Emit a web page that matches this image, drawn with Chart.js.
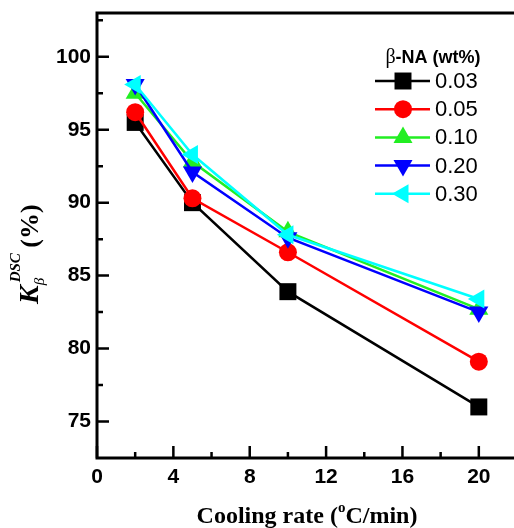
<!DOCTYPE html>
<html><head><meta charset="utf-8">
<script src="https://cdn.jsdelivr.net/npm/chart.js@4.4.0/dist/chart.umd.min.js"></script>
<style>html,body{margin:0;padding:0;overflow:hidden;background:#fff;width:514px;height:528px}canvas{display:block}</style>
</head><body>
<canvas id="c" width="520" height="528"></canvas>
<script>
// ---- data ----
const coolingRates = [2, 5, 10, 20];
const seriesNames = ['0.03', '0.05', '0.10', '0.20', '0.30'];
const k003 = [95.5, 90.0, 83.9, 76.0];
const k005 = [96.2, 90.3, 86.6, 79.1];
const k010 = [97.5, 92.8, 88.0, 82.7];
const k020 = [98.1, 92.1, 87.6, 82.5];
const k030 = [98.1, 93.3, 87.8, 83.4];
const xTicks = [0, 4, 8, 12, 16, 20];
const yTicks = [75, 80, 85, 90, 95, 100];
const legendTitle = ['β', '-NA (wt%)'];
const xTitle = ['Cooling rate (', 'o', 'C/min)'];
const yTitle = ['K', 'β', 'DSC', ' (%)'];

// ---- styles ----
const SANS = '"Liberation Sans", Arial, sans-serif';
const SERIF = '"Liberation Serif", "Times New Roman", serif';
const colors = ['#000000', '#ff0000', '#22ee22', '#0000ff', '#00ffff'];
const shapes = ['rect', 'circle', 'triangle', 'triangle', 'triangle'];
const rotations = [0, 0, 0, 180, 270];
const radii = [12, 9, 11, 11, 11];
const seriesValues = [k003, k005, k010, k020, k030];

const datasets = seriesValues.map((vals, i) => ({
  label: seriesNames[i],
  data: coolingRates.map((x, j) => ({x: x, y: vals[j]})),
  borderColor: colors[i],
  backgroundColor: colors[i],
  borderWidth: 2.5,
  pointStyle: shapes[i],
  pointRotation: rotations[i],
  pointRadius: radii[i],
  pointBorderWidth: 0,
  pointHoverRadius: radii[i],
  tension: 0,
  clip: false,
  order: seriesValues.length - i
}));

const decor = {
  id: 'decor',
  beforeDatasetsDraw(chart) {
    const {ctx, chartArea: a, scales: {x, y}} = chart;
    ctx.save();
    ctx.strokeStyle = '#000';
    ctx.lineWidth = 3;
    ctx.strokeRect(a.left, a.top, a.right - a.left, a.bottom - a.top);
    ctx.lineWidth = 2.5;
    ctx.beginPath();
    const xv = x.ticks.map(t => t.value);
    xv.forEach((v, i) => {
      const px = x.getPixelForValue(v);
      ctx.moveTo(px, a.bottom); ctx.lineTo(px, a.bottom - 12);
      const mid = v + (xv[1] - xv[0]) / 2;
      if (mid < x.max) {
        const pm = x.getPixelForValue(mid);
        ctx.moveTo(pm, a.bottom); ctx.lineTo(pm, a.bottom - 6);
      }
    });
    const yv = y.ticks.map(t => t.value);
    const ys = yv[1] - yv[0];
    yv.forEach(v => {
      const py = y.getPixelForValue(v);
      ctx.moveTo(a.left, py); ctx.lineTo(a.left + 12, py);
    });
    [yv[0] - ys / 2].concat(yv.map(v => v + ys / 2)).forEach(m => {
      if (m > y.min && m < y.max) {
        const pm = y.getPixelForValue(m);
        ctx.moveTo(a.left, pm); ctx.lineTo(a.left + 6, pm);
      }
    });
    ctx.stroke();
    ctx.restore();
  },
  afterDraw(chart) {
    const {ctx, chartArea: a} = chart;
    ctx.save();
    ctx.fillStyle = '#000';
    ctx.textBaseline = 'alphabetic';
    // legend title
    const tf0 = '20px ' + SERIF, tf1 = 'bold 18px ' + SANS;
    ctx.font = tf0;
    const w0 = ctx.measureText(legendTitle[0]).width;
    ctx.font = tf1;
    const w1 = ctx.measureText(legendTitle[1]).width;
    let lx = 433 - (w0 + w1) / 2;
    ctx.font = tf0;
    ctx.fillText(legendTitle[0], lx, 63);
    ctx.font = tf1;
    ctx.fillText(legendTitle[1], lx + w0, 63);
    // legend items
    chart.data.datasets.forEach((ds, i) => {
      const cy = 81 + 28.2 * i;
      ctx.strokeStyle = ds.borderColor;
      ctx.lineWidth = 2.5;
      ctx.beginPath(); ctx.moveTo(375, cy); ctx.lineTo(430, cy); ctx.stroke();
      ctx.fillStyle = ds.backgroundColor;
      Chart.helpers.drawPoint(ctx, {pointStyle: ds.pointStyle, rotation: ds.pointRotation, radius: ds.pointRadius, borderWidth: 0}, 403, cy);
      ctx.fillStyle = '#000';
      ctx.font = '22px ' + SANS;
      ctx.textBaseline = 'middle';
      ctx.fillText(ds.label, 435, cy + 1);
      ctx.textBaseline = 'alphabetic';
    });
    // x title
    const f1 = 'bold 24px ' + SERIF, f2 = 'bold 15px ' + SERIF;
    ctx.font = f1; const a1 = ctx.measureText(xTitle[0]).width;
    ctx.font = f2; const a2 = ctx.measureText(xTitle[1]).width;
    ctx.font = f1; const a3 = ctx.measureText(xTitle[2]).width;
    let tx = 307 - (a1 + a2 + a3) / 2;
    const ty = 523;
    ctx.font = f1; ctx.fillText(xTitle[0], tx, ty);
    ctx.font = f2; ctx.fillText(xTitle[1], tx + a1, ty - 11);
    ctx.font = f1; ctx.fillText(xTitle[2], tx + a1 + a2, ty);
    // y title (rotated)
    ctx.translate(38, 304);
    ctx.rotate(-Math.PI / 2);
    ctx.font = 'bold italic 28px ' + SERIF;
    ctx.fillText(yTitle[0], 0, 0);
    const kw = ctx.measureText(yTitle[0]).width;
    ctx.font = 'italic 15px ' + SERIF;
    ctx.fillText(yTitle[1], kw, 6);
    ctx.font = 'bold italic 15px ' + SERIF;
    ctx.fillText(yTitle[2], kw + 3, -18);
    const dw = ctx.measureText(yTitle[2]).width;
    ctx.font = 'bold 26px ' + SERIF;
    ctx.fillText(yTitle[3], kw + 2 + dw, 0);
    ctx.restore();
  }
};

new Chart(document.getElementById('c'), {
  type: 'line',
  data: {datasets: datasets},
  plugins: [decor],
  options: {
    responsive: false,
    animation: false,
    events: [],
    layout: {autoPadding: false, padding: {top: 13, right: 3, left: 0, bottom: 0}},
    plugins: {legend: {display: false}, tooltip: {enabled: false}, title: {display: false}},
    scales: {
      x: {
        type: 'linear', min: 0, max: 22,
        afterBuildTicks: s => { s.ticks = xTicks.map(v => ({value: v})); },
        afterFit: s => { s.height = 70; s.paddingLeft = 0; s.paddingRight = 0; },
        grid: {display: false, drawTicks: false},
        border: {display: false},
        ticks: {color: '#000', font: {family: SANS, size: 21, weight: 'bold'}, padding: 7, maxRotation: 0, autoSkip: false}
      },
      y: {
        type: 'linear', min: 72.5, max: 103,
        afterBuildTicks: s => { s.ticks = yTicks.map(v => ({value: v})); },
        afterFit: s => { s.width = 97; s.paddingTop = 0; s.paddingBottom = 0; },
        grid: {display: false, drawTicks: false},
        border: {display: false},
        ticks: {color: '#000', font: {family: SANS, size: 21, weight: 'bold'}, padding: 6, autoSkip: false}
      }
    }
  }
});
</script>
</body></html>
